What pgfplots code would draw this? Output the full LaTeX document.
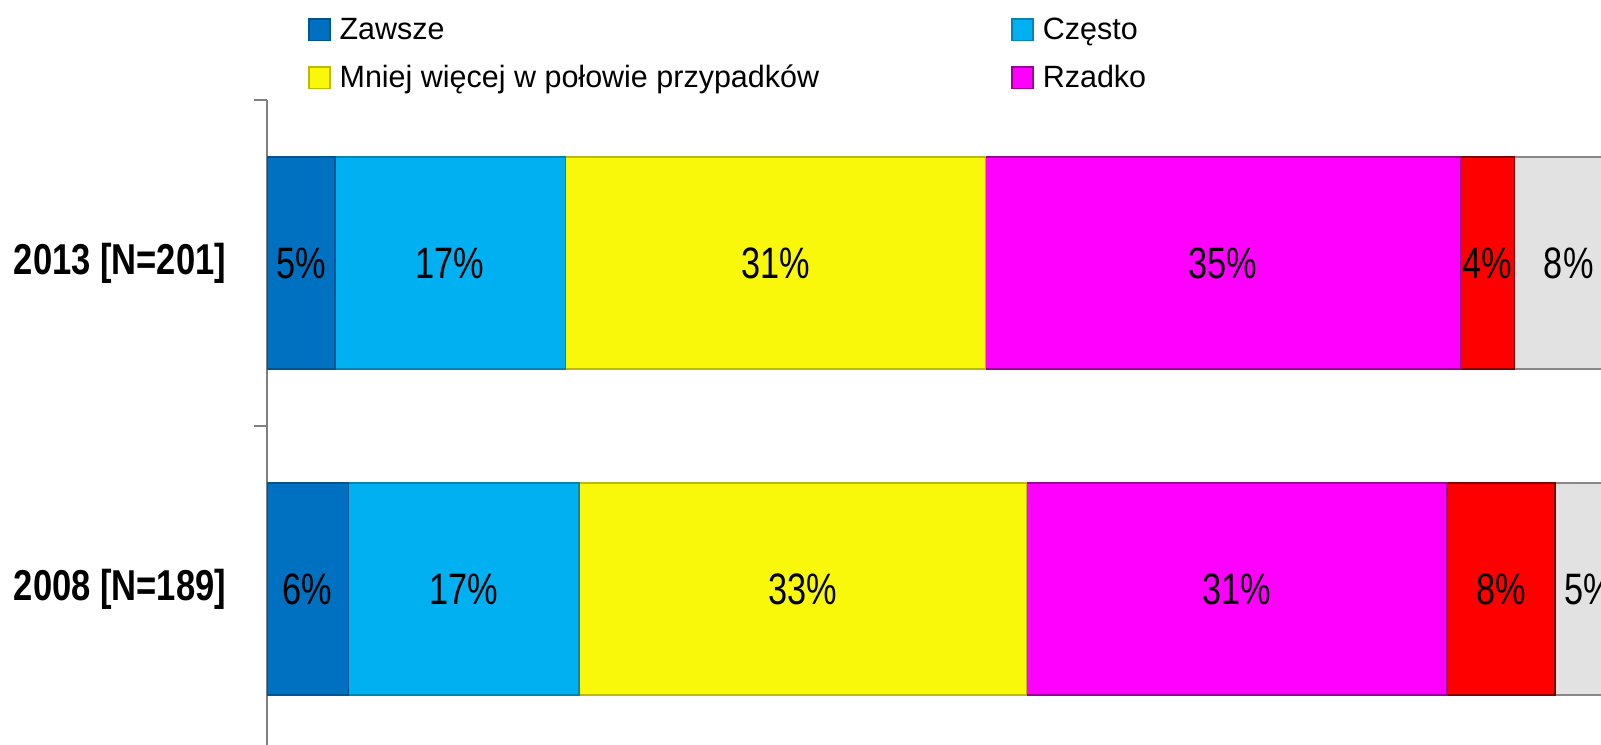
\documentclass[border=0pt]{standalone}
\usepackage{fontspec}
\setmainfont[FakeStretch=0.99]{Liberation Sans}
\newfontfamily\labelfont[FakeStretch=0.78]{Liberation Sans}
\newfontfamily\catfont[FakeStretch=0.80]{Liberation Sans}
\usepackage{pgfplots}
\pgfplotsset{compat=1.18}

\definecolor{zaw}{RGB}{0,112,192}
\definecolor{cze}{RGB}{0,176,240}
\definecolor{mni}{RGB}{250,248,10}
\definecolor{rza}{RGB}{255,0,255}
\definecolor{nig}{RGB}{255,0,0}
\definecolor{nwi}{RGB}{226,226,226}
\definecolor{axgray}{RGB}{128,128,128}

\begin{document}
\begin{tikzpicture}
\begin{axis}[
    name=ax,
    xbar stacked,
    scale only axis,
    width=339pt, height=163pt,
    xmin=0, xmax=100,
    ymin=-0.5, ymax=1.5,
    bar width=53pt,
    axis x line=none,
    axis y line*=left,
    y axis line style={axgray, line width=0.4pt},
    ytick={0,1},
    yticklabels={{2008 [N=189]},{2013 [N=201]}},
    yticklabel style={font=\catfont\fontsize{10.8}{12}\selectfont\bfseries, inner sep=0pt, xshift=-10pt},
    major tick length=0pt,
    minor ytick={-0.5,0.5,1.5},
    minor tick length=3.3pt,
    tick align=outside,
    minor tick style={axgray, line width=0.4pt},
    legend columns=2,
    legend cell align=left,
    legend style={at={(rel axis cs:0,1)}, anchor=south west,
        xshift=10.25pt, yshift=1.2pt,
        draw=none, fill=none, inner sep=0pt, outer sep=0pt,
        row sep=4.2pt, column sep=2.2pt,
        font=\fontsize{7.7}{9.2}\selectfont,
        nodes={inner sep=0pt, text height=6pt, text depth=1.8pt},
        /tikz/every even column/.append style={column sep=48pt}},
    legend image code/.code={\fill[#1] (0pt,-2.2pt) rectangle (5.3pt,3.1pt);},
]
\addplot[fill=zaw, draw=zaw!75!black, line width=0.4pt] coordinates {(5,1) (6,0)};
\addlegendentry{Zawsze}
\addplot[fill=cze, draw=cze!75!black, line width=0.4pt] coordinates {(17,1) (17,0)};
\addlegendentry{Często}
\addplot[fill=mni, draw=mni!75!black, line width=0.4pt] coordinates {(31,1) (33,0)};
\addlegendentry{Mniej więcej w połowie przypadków}
\addplot[fill=rza, draw=rza!60!black, line width=0.4pt] coordinates {(35,1) (31,0)};
\addlegendentry{Rzadko}
\addplot[forget plot, fill=nig, draw=nig!50!black, line width=0.4pt] coordinates {(4,1) (8,0)};
\addplot[forget plot, fill=nwi, draw=nwi!60!black, line width=0.4pt] coordinates {(8,1) (5,0)};
\end{axis}

% data labels, centred in each segment
\begin{axis}[
    scale only axis,
    width=339pt, height=163pt,
    xmin=0, xmax=100,
    ymin=-0.5, ymax=1.5,
    hide axis,
    clip=false,
]
\addplot[only marks, mark=none, nodes near coords, point meta=explicit symbolic,
    every node near coord/.style={anchor=base, yshift=-4pt, font=\labelfont\fontsize{11}{13}\selectfont, inner sep=0pt}]
    coordinates {
    (2.5,1) [5\%] (13.5,1) [17\%] (37.5,1) [31\%] (70.5,1) [35\%] (90,1) [4\%] (96,1) [8\%]
    (3,0) [6\%] (14.5,0) [17\%] (39.5,0) [33\%] (71.5,0) [31\%] (91,0) [8\%] (97.5,0) [5\%]
    };
\end{axis}

\pgfresetboundingbox
\useasboundingbox ([xshift=-66.75pt,yshift=1.75pt]ax.south west) rectangle ([xshift=333.5pt,yshift=25pt]ax.north west);
\end{tikzpicture}
\end{document}
